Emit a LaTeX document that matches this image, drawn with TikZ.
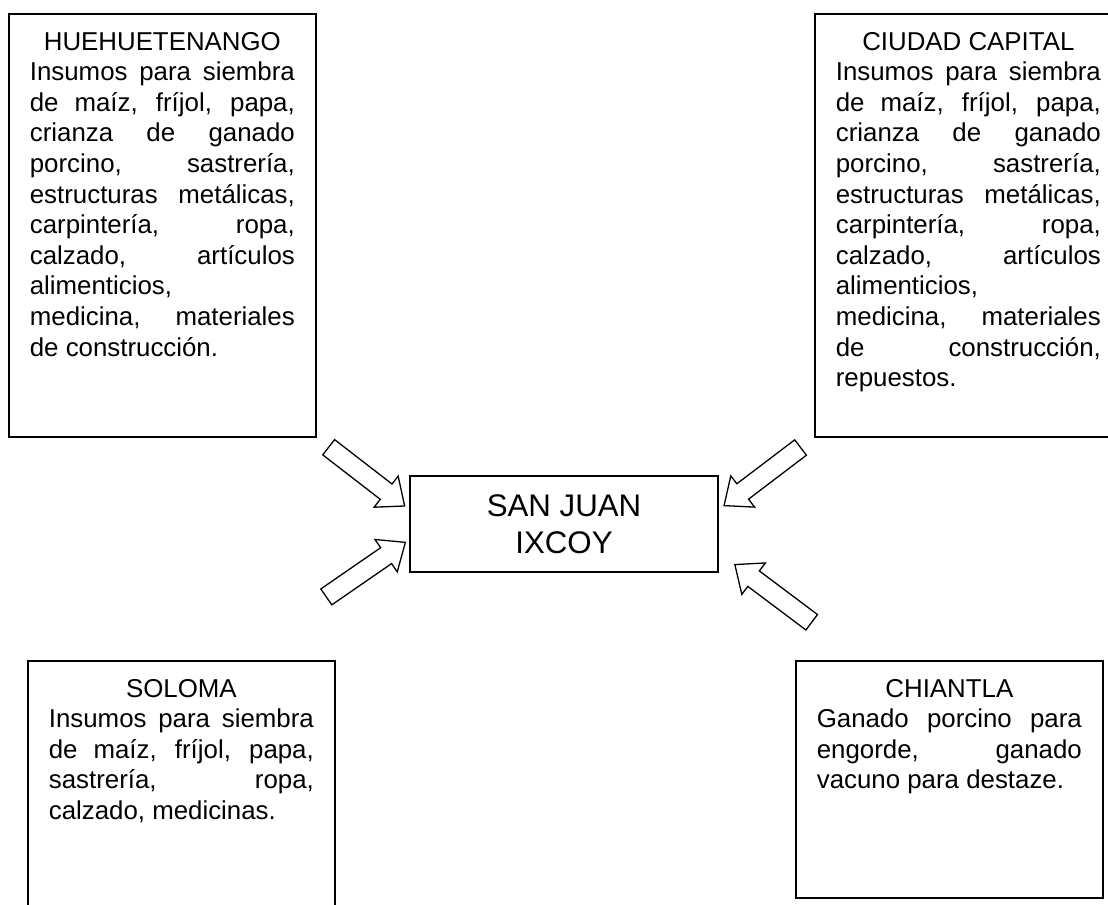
\documentclass[tikz,border=0pt]{standalone}
\usepackage{fontspec}
\setmainfont{Liberation Sans}
\usetikzlibrary{shapes.arrows,calc}
\tolerance=10000
\hbadness=10000
\hyphenpenalty=10000
\exhyphenpenalty=10000
\newcommand{\cajatexto}[3]{\parbox[t][#1][t]{123pt}{\centerline{\strut#2}#3}}
\tikzset{
  lugar/.style={draw, line width=0.8pt, anchor=north west, inner xsep=9.75pt, inner ysep=6.9pt, font=\fontsize{12}{14.2}\selectfont},
  flecha/.style={draw, line width=0.6pt, single arrow, minimum height=44.6pt, single arrow head extend=4.64pt, single arrow tip angle=80, inner xsep=0pt, inner ysep=4.18pt}
}
\begin{document}
\begin{tikzpicture}[x=0.4642pt, y=-0.4642pt]
    \useasboundingbox (0,0) rectangle (1108,905);
    \clip (0,0) rectangle (1108,905);
    \node[lugar] (hue) at (8,13) {\cajatexto{182.5pt}{HUEHUETENANGO}{Insumos para siembra\linebreak de maíz, fríjol, papa,\linebreak crianza de ganado\linebreak porcino, sastrería,\linebreak estructuras metálicas,\linebreak carpintería, ropa,\linebreak calzado, artículos\linebreak alimenticios,\newline medicina, materiales\linebreak de construcción.}};
    \node[lugar] (ciudad) at (814,13) {\cajatexto{182.5pt}{CIUDAD CAPITAL}{Insumos para siembra\linebreak de maíz, fríjol, papa,\linebreak crianza de ganado\linebreak porcino, sastrería,\linebreak estructuras metálicas,\linebreak carpintería, ropa,\linebreak calzado, artículos\linebreak alimenticios,\newline medicina, materiales\linebreak de construcción,\linebreak repuestos.}};
    \node[lugar] (soloma) at (27,660) {\cajatexto{111.5pt}{SOLOMA}{Insumos para siembra\linebreak de maíz, fríjol, papa,\linebreak sastrería, ropa,\linebreak calzado, medicinas.}};
    \node[lugar] (chiantla) at (795,660) {\cajatexto{96.2pt}{CHIANTLA}{Ganado porcino para\linebreak engorde, ganado\linebreak vacuno para destaze.}};
    \node[draw, line width=0.8pt, minimum width=143pt, minimum height=44.6pt, align=center, font=\fontsize{14.5}{17}\selectfont] (san) at (564,524) {SAN JUAN\\IXCOY};
    \node[flecha, rotate=-37.7] (fhue) at ($(san.north west)+(-47,-2)$) {};
    \node[flecha, rotate=34.6] (fsoloma) at ($(san.south west)+(-48,0)$) {};
    \node[flecha, rotate=217.2] (fciudad) at ($(san.north east)+(48,-2)$) {};
    \node[flecha, rotate=143.1] (fchiantla) at ($(san.south east)+(59,24)$) {};
\end{tikzpicture}
\end{document}
